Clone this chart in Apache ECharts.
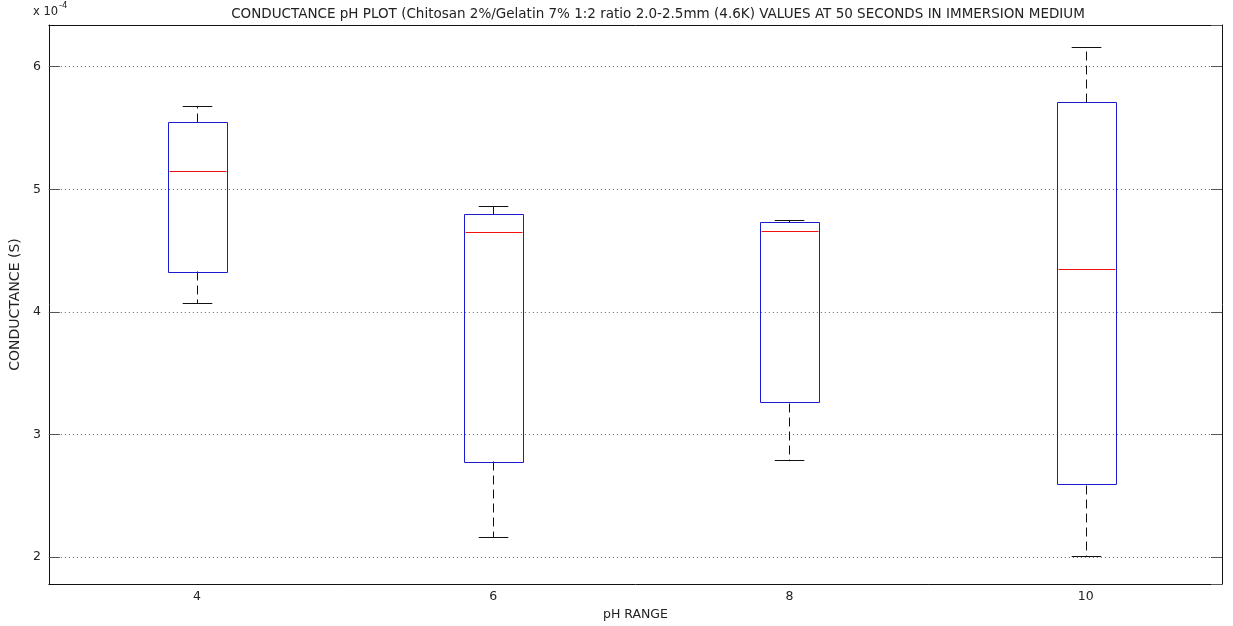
<!DOCTYPE html>
<html>
<head>
<meta charset="utf-8">
<script src="https://cdn.jsdelivr.net/npm/echarts@6/dist/echarts.min.js"></script>
<style>
  html, body { margin: 0; padding: 0; background: #fff; }
  #chart { width: 1233px; height: 626px; }
</style>
</head>
<body>
<div id="chart"></div>
<script>
// pH groups and the five-number summary of conductance for each, in units of 1e-4 S
const phLevels = [4, 6, 8, 10];
const lowerWhisker = [4.07, 2.16, 2.79, 2.01];
const lowerQuartile = [4.33, 2.78, 3.26, 2.59];
const medianValues = [5.15, 4.65, 4.66, 4.35];
const upperQuartile = [5.55, 4.80, 4.73, 5.71];
const upperWhisker = [5.68, 4.86, 4.75, 6.16];
const xTickValues = [4, 6, 8, 10];

const titleText = 'CONDUCTANCE pH PLOT (Chitosan 2%/Gelatin 7% 1:2 ratio 2.0-2.5mm (4.6K) VALUES AT 50 SECONDS IN IMMERSION MEDIUM';
const FONT = '"DejaVu Sans", "Liberation Sans", Arial, sans-serif';
const TEXT = '#222';

const boxes = phLevels.map((ph, i) => [
  ph, lowerWhisker[i], lowerQuartile[i], medianValues[i], upperQuartile[i], upperWhisker[i]
]);

function renderBox(params, api) {
  const x = api.value(0);
  const lo = api.coord([x, api.value(1)]);
  const q1 = api.coord([x, api.value(2)]);
  const md = api.coord([x, api.value(3)]);
  const q3 = api.coord([x, api.value(4)]);
  const hi = api.coord([x, api.value(5)]);
  const half = api.size([0.4, 0])[0] / 2;
  const capHalf = api.size([0.2, 0])[0] / 2;
  const cx = Math.round(lo[0]) + 0.5;
  const snap = v => Math.round(v) + 0.5;
  const left = snap(cx - half);
  const width = Math.round(2 * half);
  const dashed = { stroke: '#111', lineWidth: 1, lineDash: [9, 5], fill: null };
  const solid = { stroke: '#111', lineWidth: 1, fill: null };
  return {
    type: 'group',
    children: [
      { type: 'line', shape: { x1: cx, y1: snap(q3[1]), x2: cx, y2: snap(hi[1]) }, style: dashed },
      { type: 'line', shape: { x1: cx, y1: snap(q1[1]), x2: cx, y2: snap(lo[1]) }, style: dashed },
      { type: 'line', shape: { x1: cx - capHalf, y1: snap(hi[1]), x2: cx + capHalf, y2: snap(hi[1]) }, style: solid },
      { type: 'line', shape: { x1: cx - capHalf, y1: snap(lo[1]), x2: cx + capHalf, y2: snap(lo[1]) }, style: solid },
      {
        type: 'rect',
        shape: { x: left, y: snap(q3[1]), width: width, height: Math.round(q1[1] - q3[1]) },
        style: { fill: null, stroke: '#1a1ad0', lineWidth: 1 }
      },
      {
        type: 'line',
        shape: { x1: left + 1, y1: snap(md[1]), x2: left + width - 1, y2: snap(md[1]) },
        style: { stroke: '#f01010', lineWidth: 1 }
      }
    ]
  };
}

const chart = echarts.init(document.getElementById('chart'), null, { renderer: 'canvas' });

const yCommon = {
  type: 'value',
  min: 1.78,
  max: 6.34,
  splitNumber: 5,
  axisLine: { show: true, lineStyle: { color: '#111', width: 1 } },
  axisTick: { show: true, inside: true, length: 11, lineStyle: { color: '#555' } }
};

chart.setOption({
  animation: false,
  backgroundColor: '#fff',
  textStyle: { fontFamily: FONT },
  grid: { left: 46, right: 11, top: 25, bottom: 40, containLabel: false },
  graphic: [
    {
      type: 'text', x: 658, y: 14,
      style: { text: titleText, font: '13.5px ' + FONT, fill: TEXT, textAlign: 'center', textVerticalAlign: 'middle' }
    },
    {
      type: 'text', x: 33, y: 12,
      style: { text: 'x 10', font: '11.5px ' + FONT, fill: TEXT, textVerticalAlign: 'middle' }
    },
    {
      type: 'text', x: 59, y: 6,
      style: { text: '-4', font: '8.5px ' + FONT, fill: TEXT, textVerticalAlign: 'middle' }
    }
  ],
  xAxis: [
    {
      type: 'value',
      min: 3,
      max: 10.92,
      position: 'bottom',
      name: 'pH RANGE',
      nameLocation: 'middle',
      nameGap: 24,
      nameTextStyle: { color: TEXT, fontSize: 12.5, fontFamily: FONT },
      axisLine: { show: true, onZero: false, lineStyle: { color: '#111', width: 1 } },
      axisTick: { show: false },
      splitLine: { show: false },
      axisLabel: { customValues: xTickValues, color: TEXT, fontSize: 12.5, fontFamily: FONT, margin: 6 }
    },
    {
      type: 'value',
      min: 3,
      max: 10.92,
      position: 'top',
      axisLine: { show: true, onZero: false, lineStyle: { color: '#111', width: 1 } },
      axisTick: { show: false },
      splitLine: { show: false },
      axisLabel: { show: false }
    }
  ],
  yAxis: [
    Object.assign({}, yCommon, {
      position: 'left',
      name: 'CONDUCTANCE (S)',
      nameLocation: 'middle',
      nameGap: 16,
      nameRotate: 90,
      nameTextStyle: { color: TEXT, fontSize: 14, fontFamily: FONT },
      splitLine: {
        show: true, showMinLine: false, showMaxLine: false,
        lineStyle: { color: '#666', width: 1, type: [1, 3] }
      },
      axisLabel: { color: TEXT, fontSize: 12.5, fontFamily: FONT, margin: 8, showMinLabel: false, showMaxLabel: false }
    }),
    Object.assign({}, yCommon, {
      position: 'right',
      splitLine: { show: false },
      axisLabel: { show: false }
    })
  ],
  series: [
    {
      type: 'custom',
      xAxisIndex: 0,
      yAxisIndex: 0,
      renderItem: renderBox,
      encode: { x: 0, y: [1, 2, 3, 4, 5] },
      data: boxes,
      z: 5
    }
  ]
});
</script>
</body>
</html>
